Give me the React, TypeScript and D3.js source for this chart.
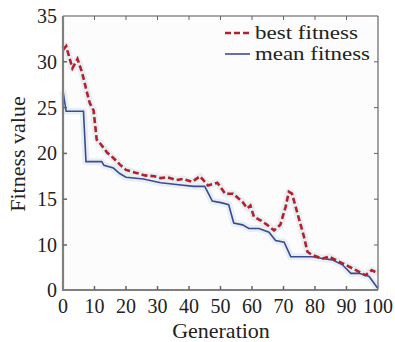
import React, { useEffect, useRef } from "react";
import * as d3 from "d3";

// generations and fitness values
const bestGen = [0, 1, 3, 4.6, 6, 7.8, 8.5, 9.7, 10.7, 12, 14, 16, 18, 20, 23, 26, 29, 31, 33, 36, 38, 41, 43.5, 46, 49, 51.5, 54, 57, 58.5, 59.5, 60.6, 62.7, 64.8, 67, 69, 70.7, 71.7, 72.7, 74.4, 76.5, 77.6, 79, 82.4, 84.5, 87.6, 90.8, 93, 96, 98, 100];
const bestValue = [31.3, 31.7, 29.3, 30.3, 28.9, 26.4, 25.5, 24.7, 21.5, 21, 20.1, 19.5, 18.8, 18.2, 17.9, 17.6, 17.5, 17.3, 17.4, 17.1, 17.2, 16.9, 17.5, 16.5, 16.8, 15.6, 15.6, 14.7, 14.0, 14.3, 13.1, 12.7, 12.2, 11.6, 12.2, 14.2, 15.8, 15.6, 13.5, 10.9, 8.5, 7.8, 7.0, 7.4, 6.3, 5.2, 4.4, 3.3, 4.4, 3.7];

const meanGen = [0, 1, 6.5, 7.3, 12.3, 13, 16, 18, 20, 25.5, 31, 36, 41.5, 45, 47.4, 50.5, 52.6, 54.2, 57, 59, 62.2, 65.4, 67.5, 70.2, 72.3, 79, 82.4, 85.5, 88.7, 91.4, 94, 97.2, 99.9];
const meanValue = [26.8, 24.6, 24.6, 19.1, 19.1, 18.7, 18.4, 17.8, 17.4, 17.2, 16.8, 16.6, 16.4, 16.4, 14.8, 14.6, 14.4, 12.4, 12.2, 11.8, 11.8, 11.4, 10.5, 10.3, 7.4, 7.4, 7.0, 6.7, 5.6, 3.7, 3.7, 3.0, 0.4];

const xTicks = [0, 10, 20, 30, 40, 50, 60, 70, 80, 90, 100];
const yTicks = [0, 10, 15, 20, 25, 30, 35];

const legendNames = ["best fitness", "mean fitness"];

export default function App() {
  const ref = useRef(null);

  useEffect(() => {
    const svg = d3.select(ref.current);
    svg.selectAll("*").remove();

    const left = 63, right = 378, top = 16, bottom = 290;

    const x = d3.scaleLinear().domain([0, 100]).range([left, right]);
    // the axis in the picture puts 0 where 5 would be, so the bottom part is squeezed
    const y = d3.scaleLinear().domain([0, 10, 35]).range([bottom, 245, top]);

    svg.append("rect")
      .attr("x", left).attr("y", top)
      .attr("width", right - left).attr("height", bottom - top)
      .attr("fill", "#fcfcfc");

    const line = d3.line().x(d => x(d[0])).y(d => y(d[1]));
    const best = bestGen.map((g, i) => [g, bestValue[i]]);
    const mean = meanGen.map((g, i) => [g, meanValue[i]]);

    // faint halo round the lines
    [best, mean].forEach(pts => {
      svg.append("path")
        .attr("d", line(pts))
        .attr("fill", "none")
        .attr("stroke", "#e8eff2")
        .attr("stroke-width", 7)
        .attr("stroke-linejoin", "round");
    });

    svg.append("path")
      .attr("d", line(mean))
      .attr("fill", "none")
      .attr("stroke", "#3b4a96")
      .attr("stroke-width", 1.6);

    svg.append("path")
      .attr("d", line(best))
      .attr("fill", "none")
      .attr("stroke", "#b3202c")
      .attr("stroke-width", 2.6)
      .attr("stroke-dasharray", "6,3");

    // frame
    svg.append("line").attr("x1", left).attr("x2", right).attr("y1", top).attr("y2", top)
      .attr("stroke", "#555").attr("stroke-width", 1.2);
    svg.append("line").attr("x1", right).attr("x2", right).attr("y1", top).attr("y2", bottom)
      .attr("stroke", "#666").attr("stroke-width", 1.2);
    svg.append("line").attr("x1", left).attr("x2", left).attr("y1", top).attr("y2", bottom + 1)
      .attr("stroke", "#808080").attr("stroke-width", 2.2);
    svg.append("line").attr("x1", left - 1).attr("x2", right).attr("y1", bottom).attr("y2", bottom)
      .attr("stroke", "#808080").attr("stroke-width", 2.2);

    // ticks, inward on all four sides
    const tk = 4;
    xTicks.slice(1, -1).forEach(t => {
      svg.append("line").attr("x1", x(t)).attr("x2", x(t)).attr("y1", bottom).attr("y2", bottom - tk)
        .attr("stroke", "#666").attr("stroke-width", 1.5);
      svg.append("line").attr("x1", x(t)).attr("x2", x(t)).attr("y1", top).attr("y2", top + tk)
        .attr("stroke", "#666").attr("stroke-width", 1);
    });
    yTicks.slice(1, -1).forEach(t => {
      svg.append("line").attr("x1", left).attr("x2", left + tk).attr("y1", y(t)).attr("y2", y(t))
        .attr("stroke", "#666").attr("stroke-width", 1.5);
      svg.append("line").attr("x1", right).attr("x2", right - tk).attr("y1", y(t)).attr("y2", y(t))
        .attr("stroke", "#666").attr("stroke-width", 1);
    });

    const font = "Liberation Serif, DejaVu Serif, serif";

    svg.selectAll(".xl").data(xTicks).join("text")
      .attr("x", d => x(d)).attr("y", 313)
      .attr("text-anchor", "middle")
      .style("font-family", font).style("font-size", "20px").attr("fill", "#222")
      .text(d => d);

    svg.selectAll(".yl").data(yTicks).join("text")
      .attr("x", 57).attr("y", d => y(d)).attr("dy", "0.35em")
      .attr("text-anchor", "end")
      .style("font-family", font).style("font-size", "20px").attr("fill", "#222")
      .text(d => d);

    svg.append("text")
      .attr("x", 221).attr("y", 338)
      .attr("text-anchor", "middle")
      .style("font-family", font).style("font-size", "22px").attr("fill", "#222")
      .text("Generation");

    svg.append("text")
      .attr("transform", "translate(25,154) rotate(-90)")
      .attr("text-anchor", "middle")
      .style("font-family", font).style("font-size", "22px").attr("fill", "#222")
      .text("Fitness value");

    // legend, text stretched a little to the width it has in the picture
    const lg = svg.append("g");
    lg.append("line").attr("x1", 225).attr("x2", 250).attr("y1", 33).attr("y2", 33)
      .attr("stroke", "#b3202c").attr("stroke-width", 2.6).attr("stroke-dasharray", "6,3");
    lg.append("line").attr("x1", 225).attr("x2", 250).attr("y1", 54).attr("y2", 54)
      .attr("stroke", "#3b4a96").attr("stroke-width", 1.6);
    lg.selectAll("text").data(legendNames).join("text")
      .attr("x", 255).attr("y", (d, i) => 39 + i * 21)
      .attr("textLength", (d, i) => (i === 0 ? 103 : 115))
      .attr("lengthAdjust", "spacingAndGlyphs")
      .style("font-family", font).style("font-size", "19px").attr("fill", "#222")
      .text(d => d);
  }, []);

  return (
    <svg ref={ref} width={395} height={342}
      style={{ position: "absolute", left: 0, top: 0, background: "#fff" }} />
  );
}
